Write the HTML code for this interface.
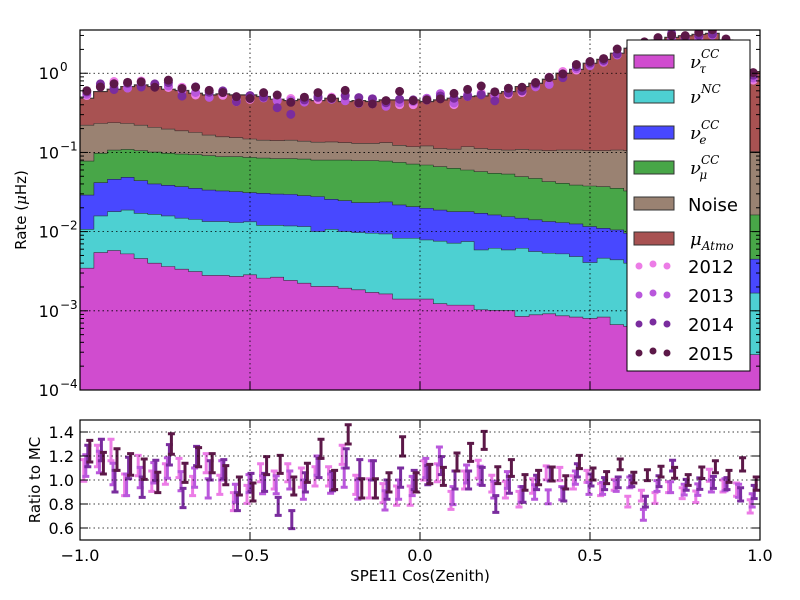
<!DOCTYPE html>
<html><head><meta charset="utf-8"><style>
body{margin:0;background:#fff;}
svg{display:block;font-family:"DejaVu Sans","Liberation Sans",sans-serif;}
</style></head><body>
<svg id="chart" width="800" height="600" viewBox="0 0 800 600" xmlns="http://www.w3.org/2000/svg">
<rect width="800" height="600" fill="#fff"/>
<g id="main"></g><g id="ratio"></g>
</svg>
<script>
// ---- data ----
const binEdgesMin = -1, binEdgesMax = 1, nBins = 50;
const layerNames = ["nu_tau_CC","nu_NC","nu_e_CC","nu_mu_CC","Noise","mu_Atmo"];
const layerColors = ["#d04ccf","#4dd0d2","#4848ff","#48a648","#9a8272","#a85252"];
// cumulative stacked rate (µHz) at top of each layer
const tauTop=[0.00348,0.00548,0.00582,0.00528,0.00461,0.00403,0.00366,0.00338,0.00316,0.00282,0.00282,0.00274,0.00287,0.00261,0.00268,0.00244,0.00225,0.00205,0.00205,0.00195,0.00186,0.00172,0.00165,0.00142,0.00142,0.00142,0.00124,0.00119,0.00119,0.00104,0.00102,0.00102,0.000857,0.000899,0.000925,0.000873,0.00084,0.000809,0.00084,0.000673,0.000641,0.000582,0.000528,0.00048,0.000435,0.000395,0.000359,0.000326,0.000296,0.000282];
const ncTop=[0.0108,0.0159,0.018,0.0189,0.0172,0.0167,0.0159,0.0149,0.0144,0.0135,0.0135,0.0131,0.0134,0.0121,0.0121,0.0119,0.0117,0.0101,0.0108,0.0101,0.00981,0.00962,0.00944,0.00832,0.00832,0.00793,0.00763,0.0072,0.00755,0.00593,0.00622,0.00593,0.00622,0.00565,0.00538,0.00528,0.00489,0.0041,0.00466,0.00444,0.00403,0.00366,0.00332,0.00301,0.00274,0.00248,0.00225,0.00205,0.00186,0.00169];
const nueTop=[0.0292,0.0419,0.0461,0.0489,0.0444,0.0403,0.0388,0.0373,0.0355,0.0338,0.0329,0.0322,0.0313,0.0307,0.0301,0.0298,0.0287,0.0279,0.0258,0.0248,0.0234,0.0234,0.0239,0.0219,0.0208,0.0199,0.0189,0.018,0.018,0.0172,0.0164,0.0156,0.0149,0.0142,0.0135,0.0131,0.0126,0.0117,0.0111,0.0106,0.00962,0.00881,0.00809,0.00741,0.00679,0.00622,0.00571,0.00523,0.00484,0.00452];
const numuTop=[0.0785,0.0982,0.108,0.11,0.106,0.102,0.0982,0.0962,0.0944,0.0917,0.0891,0.0891,0.0873,0.0857,0.084,0.084,0.0832,0.0809,0.0809,0.0809,0.0793,0.0793,0.0785,0.0755,0.072,0.07,0.0667,0.0635,0.0605,0.0577,0.0549,0.0538,0.0498,0.0474,0.0431,0.0411,0.0391,0.038,0.0373,0.0355,0.0329,0.0304,0.0282,0.0261,0.0241,0.0223,0.0207,0.0191,0.0177,0.0164];
const noiseTop=[0.223,0.234,0.239,0.234,0.223,0.209,0.199,0.189,0.18,0.167,0.159,0.155,0.149,0.144,0.142,0.144,0.14,0.136,0.137,0.134,0.131,0.131,0.134,0.124,0.119,0.122,0.113,0.111,0.119,0.113,0.11,0.108,0.11,0.108,0.106,0.108,0.108,0.106,0.106,0.108,0.106,0.106,0.106,0.106,0.106,0.106,0.106,0.106,0.106,0.103];
const atmoTop=[0.484,0.587,0.629,0.679,0.713,0.679,0.629,0.605,0.56,0.533,0.549,0.533,0.533,0.508,0.47,0.452,0.47,0.452,0.484,0.44,0.452,0.44,0.461,0.461,0.461,0.44,0.461,0.484,0.508,0.518,0.56,0.587,0.679,0.748,0.84,1.0,1.12,1.34,1.5,1.79,2.07,2.39,2.63,2.84,2.98,3.1,3.19,2.63,1.79,1.05];
// data / MC ratios per year
const years=["2012","2013","2014","2015"];
const yearColors=["#ec7ce6","#b957dc","#7a2c9e","#5c1848"];
const ratio2012=[1.08,1.2,1.25,0.96,1.12,0.99,1.05,1.1,0.95,1.14,0.96,0.82,0.88,1.06,1.0,1.06,1.02,1.03,1.03,1.21,0.96,0.93,0.89,0.87,0.87,1.08,1.06,0.83,1.0,1.09,0.97,0.92,0.84,0.95,1.06,1.05,0.98,1.03,0.92,0.96,0.82,0.87,0.85,0.94,0.89,0.86,1.04,0.95,0.92,0.78];
const ratio2013=[1.12,1.15,1.05,0.96,1.02,1.06,1.1,0.99,1.02,0.93,1.08,0.89,0.97,0.96,0.96,1.0,0.92,1.12,0.97,1.02,0.92,1.08,0.83,0.92,0.95,1.1,1.2,0.87,1.05,1.04,0.92,1.0,0.88,0.9,0.86,0.89,1.02,0.93,0.93,0.95,0.98,0.71,0.95,0.94,0.92,0.92,0.95,0.96,0.91,0.83];
const ratio2014=[1.2,1.25,0.99,1.1,0.94,1.08,1.21,0.85,1.2,1.08,1.09,0.82,0.98,0.98,0.78,0.67,0.98,1.1,0.99,1.18,1.09,1.08,0.92,1.02,1.0,1.04,1.12,1.0,1.0,1.03,0.8,0.96,0.88,0.98,1.05,0.88,1.08,1.0,0.97,0.98,0.99,0.82,0.99,1.12,0.96,0.97,0.98,0.97,0.88,0.9];
const ratio2015=[1.24,1.14,1.17,1.13,1.09,0.98,1.3,1.06,1.19,1.14,1.04,0.95,0.9,1.12,1.13,0.95,1.06,1.26,1.0,1.38,0.93,0.93,0.98,1.28,0.98,1.05,1.03,1.15,1.23,1.33,1.04,1.1,0.98,1.02,1.05,0.98,1.15,1.05,1.02,1.13,1.02,1.04,1.07,1.06,1.0,1.06,1.11,1.03,1.13,0.97];
const ratioErr=[0.09,0.09,0.09,0.09,0.085,0.085,0.085,0.08,0.08,0.08,0.08,0.075,0.075,0.075,0.075,0.075,0.08,0.08,0.08,0.08,0.08,0.08,0.08,0.08,0.08,0.08,0.075,0.075,0.075,0.075,0.07,0.07,0.065,0.06,0.058,0.055,0.055,0.05,0.05,0.045,0.045,0.045,0.045,0.045,0.045,0.048,0.05,0.05,0.055,0.055];
const xTicks=[-1.0,-0.5,0.0,0.5,1.0];
const xTickLabels=["\u22121.0","\u22120.5","0.0","0.5","1.0"];
const yExps=[-4,-3,-2,-1,0];
const rTicks=[0.6,0.8,1.0,1.2,1.4];
const rTickLabels=["0.6","0.8","1.0","1.2","1.4"];

// ---- axes ----
const L=80,R=760,T=30,B=390, RT=420, RB=540;
const logMin=-4, logMax=0.546, rMin=0.5, rMax=1.5;
const xs=v=>L+(v-binEdgesMin)/(binEdgesMax-binEdgesMin)*(R-L);
const ys=v=>{const lv=Math.log10(Math.max(v,1e-6));return B-(lv-logMin)/(logMax-logMin)*(B-T);};
const yr=v=>RB-(v-rMin)/(rMax-rMin)*(RB-RT);
const NS="http://www.w3.org/2000/svg";
function mk(tag,attrs,parent){const e=document.createElementNS(NS,tag);for(const k in attrs)e.setAttribute(k,attrs[k]);parent.appendChild(e);return e;}
const main=document.getElementById('main'), rg=document.getElementById('ratio');
const bw=(binEdgesMax-binEdgesMin)/nBins;
const edge=i=>xs(binEdgesMin+i*bw);
const center=i=>xs(binEdgesMin+(i+0.5)*bw);

const defs=mk('defs',{},main);
const cp=mk('clipPath',{id:'cm'},defs);mk('rect',{x:L,y:T,width:R-L,height:B-T},cp);
const cp2=mk('clipPath',{id:'cr'},defs);mk('rect',{x:L,y:RT,width:R-L,height:RB-RT},cp2);
const plot=mk('g',{'clip-path':'url(#cm)'},main);

const tops=[tauTop,ncTop,nueTop,numuTop,noiseTop,atmoTop];
function stepTop(arr){let d='';for(let i=0;i<nBins;i++){const y=ys(arr[i]).toFixed(2);d+=(i===0?'M':'L')+edge(i).toFixed(2)+','+y+'L'+edge(i+1).toFixed(2)+','+y;}return d;}
function stepBackLower(arr){let d='';for(let i=nBins-1;i>=0;i--){const y=arr?ys(arr[i]).toFixed(2):B+5;d+='L'+edge(i+1).toFixed(2)+','+y+'L'+edge(i).toFixed(2)+','+y;}return d;}
for(let k=0;k<tops.length;k++){
  const p=mk('path',{d:stepTop(tops[k])+stepBackLower(k>0?tops[k-1]:null)+'Z',fill:layerColors[k],stroke:'none'},plot);
  
  
  const l=mk('path',{d:stepTop(tops[k]),fill:'none',stroke:'#1a1a1a','stroke-opacity':0.8,'stroke-width':1.2},plot);
  
  
}
for(const e of yExps){mk('line',{x1:L,x2:R,y1:ys(Math.pow(10,e)),y2:ys(Math.pow(10,e)),stroke:'#000','stroke-dasharray':'1.5,3','stroke-width':0.8},main);}
for(const t of xTicks){mk('line',{x1:xs(t),x2:xs(t),y1:T,y2:B,stroke:'#000','stroke-dasharray':'1.5,3','stroke-width':0.8},main);}
const ratios=[ratio2012,ratio2013,ratio2014,ratio2015];
for(let y=0;y<4;y++){
  const g=mk('g',{'clip-path':'url(#cm)'},main);
  
  
  for(let i=0;i<nBins;i++){
    const c=mk('circle',{cx:center(i),cy:ys(ratios[y][i]*atmoTop[i]),r:4.5,fill:yearColors[y]},g);
    
    
  }
}
const tk=mk('g',{stroke:'#000','stroke-width':1},main);
for(let e=-4;e<=0;e++){
  mk('line',{x1:L,x2:L+8,y1:ys(Math.pow(10,e)),y2:ys(Math.pow(10,e))},tk);
  mk('line',{x1:R,x2:R-8,y1:ys(Math.pow(10,e)),y2:ys(Math.pow(10,e))},tk);
  for(let m=2;m<10;m++){const v=m*Math.pow(10,e);if(ys(v)<T)break;
    mk('line',{x1:L,x2:L+4,y1:ys(v),y2:ys(v)},tk);mk('line',{x1:R,x2:R-4,y1:ys(v),y2:ys(v)},tk);}
}
for(const t of xTicks){mk('line',{x1:xs(t),x2:xs(t),y1:B,y2:B-8},tk);mk('line',{x1:xs(t),x2:xs(t),y1:T,y2:T+8},tk);}
for(const e of yExps){
  const t=mk('text',{x:L-21,y:ys(Math.pow(10,e))+6,'text-anchor':'end','font-size':16,fill:'#000'},main);
  t.textContent='10';
  
  
  const s=mk('text',{x:L-20,y:ys(Math.pow(10,e))-2,'font-size':12,fill:'#000'},main);
  s.textContent=e===0?'0':'\u2212'+(-e);
}
mk('rect',{x:L,y:T,width:R-L,height:B-T,fill:'none',stroke:'#000','stroke-width':1.2},main);

const rp=mk('g',{'clip-path':'url(#cr)'},rg);
for(const t of rTicks){mk('line',{x1:L,x2:R,y1:yr(t),y2:yr(t),stroke:'#000','stroke-dasharray':'1.5,3','stroke-width':0.8},rg);}
for(const t of xTicks){mk('line',{x1:xs(t),x2:xs(t),y1:RT,y2:RB,stroke:'#000','stroke-dasharray':'1.5,3','stroke-width':0.8},rg);}
const offs=[-3,-1,1,3];
for(let y=0;y<4;y++){
  const g=mk('g',{stroke:yearColors[y],'stroke-width':3,fill:'none'},rp);
  
  
  for(let i=0;i<nBins;i++){
    const x=center(i)+offs[y], v=ratios[y][i], e=ratioErr[i];
    const p=mk('path',{d:`M${x},${yr(v-e)}V${yr(v+e)}M${x-3.5},${yr(v-e)}H${x+3.5}M${x-3.5},${yr(v+e)}H${x+3.5}`},g);
    
    
  }
}
const tk2=mk('g',{stroke:'#000','stroke-width':1},rg);
for(const t of rTicks){mk('line',{x1:L,x2:L+8,y1:yr(t),y2:yr(t)},tk2);mk('line',{x1:R,x2:R-8,y1:yr(t),y2:yr(t)},tk2);}
for(const t of xTicks){mk('line',{x1:xs(t),x2:xs(t),y1:RB,y2:RB-8},tk2);mk('line',{x1:xs(t),x2:xs(t),y1:RT,y2:RT+8},tk2);}
rTicks.forEach((t,i)=>{const e=mk('text',{x:L-6,y:yr(t)+6,'text-anchor':'end','font-size':16,fill:'#000'},rg);e.textContent=rTickLabels[i];
  
  });
xTicks.forEach((t,i)=>{const e=mk('text',{x:xs(t),y:RB+21,'text-anchor':'middle','font-size':16,fill:'#000'},rg);e.textContent=xTickLabels[i];
  
  });
mk('rect',{x:L,y:RT,width:R-L,height:RB-RT,fill:'none',stroke:'#000','stroke-width':1.2},rg);
</script>
<div style="position:absolute;left:0;top:0;width:800px;height:600px;pointer-events:none">
<svg width="800" height="600" style="position:absolute;left:0;top:0">
<text transform="translate(26,210) rotate(-90)" text-anchor="middle" font-size="15" font-family="DejaVu Sans,Liberation Sans,sans-serif">Rate (<tspan font-style="italic" font-family="DejaVu Serif,Liberation Serif,serif">μ</tspan>Hz)</text>
<text transform="translate(40,480) rotate(-90)" text-anchor="middle" font-size="15" font-family="DejaVu Sans,Liberation Sans,sans-serif">Ratio to MC</text>
<text x="420" y="581" text-anchor="middle" font-size="15" font-family="DejaVu Sans,Liberation Sans,sans-serif">SPE11 Cos(Zenith)</text>
<g font-family="DejaVu Sans,Liberation Sans,sans-serif">
<rect x="627" y="40" width="123" height="331" fill="#fff" stroke="#000" stroke-width="1"/>
<rect x="634" y="55" width="40" height="13" fill="#d04ccf" stroke="#333"/>
<rect x="634" y="90" width="40" height="13" fill="#4dd0d2" stroke="#333"/>
<rect x="634" y="126" width="40" height="13" fill="#4848ff" stroke="#333"/>
<rect x="634" y="161" width="40" height="13" fill="#48a648" stroke="#333"/>
<rect x="634" y="197" width="40" height="13" fill="#9a8272" stroke="#333"/>
<rect x="634" y="232" width="40" height="13" fill="#a85252" stroke="#333"/>
<g font-family="DejaVu Serif,Liberation Serif,serif" font-style="italic">
<text x="690" y="68" font-size="18">ν<tspan font-size="12" dy="-10">CC</tspan><tspan font-size="12" dx="-20" dy="15">τ</tspan></text>
<text x="690" y="103" font-size="18">ν<tspan font-size="12" dy="-10">NC</tspan></text>
<text x="690" y="139" font-size="18">ν<tspan font-size="12" dy="-10">CC</tspan><tspan font-size="12" dx="-20" dy="15">e</tspan></text>
<text x="690" y="174" font-size="18">ν<tspan font-size="12" dy="-10">CC</tspan><tspan font-size="12" dx="-20" dy="15">μ</tspan></text>
<text x="690" y="245" font-size="18">μ<tspan font-size="12" dy="5">Atmo</tspan></text>
</g>
<text x="688" y="211" font-size="18">Noise</text>
<circle cx="639" cy="266" r="3.5" fill="#ec7ce6"/><circle cx="653" cy="264" r="3.5" fill="#ec7ce6"/><circle cx="667" cy="266" r="3.5" fill="#ec7ce6"/>
<text x="688" y="273" font-size="18">2012</text>
<circle cx="639" cy="295" r="3.5" fill="#b957dc"/><circle cx="653" cy="293" r="3.5" fill="#b957dc"/><circle cx="667" cy="295" r="3.5" fill="#b957dc"/>
<text x="688" y="302" font-size="18">2013</text>
<circle cx="639" cy="324" r="3.5" fill="#7a2c9e"/><circle cx="653" cy="322" r="3.5" fill="#7a2c9e"/><circle cx="667" cy="324" r="3.5" fill="#7a2c9e"/>
<text x="688" y="331" font-size="18">2014</text>
<circle cx="639" cy="353" r="3.5" fill="#5c1848"/><circle cx="653" cy="351" r="3.5" fill="#5c1848"/><circle cx="667" cy="353" r="3.5" fill="#5c1848"/>
<text x="688" y="360" font-size="18">2015</text>
</g>
</svg>
</div>
</body></html>
